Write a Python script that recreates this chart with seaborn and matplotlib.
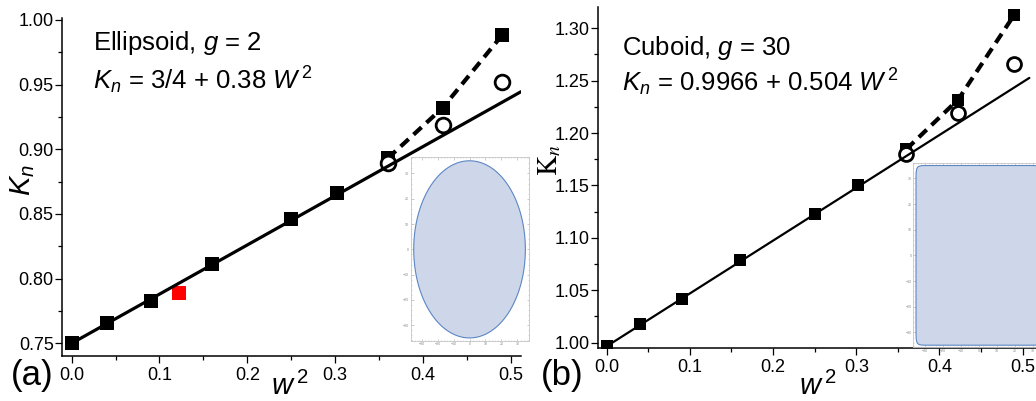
import numpy as np
import pandas as pd
import matplotlib
matplotlib.use("Agg")
import matplotlib.pyplot as plt
from matplotlib.ticker import MultipleLocator, FormatStrFormatter
import seaborn as sns

# ---------------- data ----------------
w2 = [0.0, 0.04, 0.09, 0.16, 0.25, 0.3025, 0.36, 0.4225, 0.49]
w2_open = [0.36, 0.4225, 0.49]

kn_ellipsoid = [0.750, 0.766, 0.783, 0.811, 0.846, 0.866, 0.893, 0.932, 0.988]
kn_ellipsoid_open = [0.889, 0.919, 0.952]
w2_red = [0.1225]
kn_red = [0.789]

kn_cuboid = [0.997, 1.018, 1.042, 1.079, 1.123, 1.150, 1.1845, 1.232, 1.313]
kn_cuboid_open = [1.180, 1.219, 1.266]

fit_ellipsoid = (0.75, 0.38)     # K_n = 3/4 + 0.38 W^2
fit_cuboid = (0.9966, 0.504)     # K_n = 0.9966 + 0.504 W^2
g_ellipsoid = 2
g_cuboid = 30
shape_radius = 35

x_ticks = [0.0, 0.1, 0.2, 0.3, 0.4, 0.5]
y_ticks_a = [0.75, 0.80, 0.85, 0.90, 0.95, 1.00]
y_ticks_b = [1.00, 1.05, 1.10, 1.15, 1.20, 1.25, 1.30]
inset_ticks = [-30, -20, -10, 0, 10, 20, 30]

# ---------------- style ----------------
sns.set_theme(style="ticks")
plt.rcParams["font.family"] = ["Liberation Sans", "DejaVu Sans"]
plt.rcParams["mathtext.fontset"] = "custom"
plt.rcParams["mathtext.rm"] = "Liberation Sans"
plt.rcParams["mathtext.it"] = "Liberation Sans:italic"
plt.rcParams["mathtext.bf"] = "Liberation Sans:bold"
plt.rcParams["text.color"] = "black"
plt.rcParams["axes.labelcolor"] = "black"

W, H = 1036, 401
fig = plt.figure(figsize=(W / 100, H / 100), dpi=100)


def box(left, top, right, bottom):
    return [left / W, 1 - bottom / H, (right - left) / W, (bottom - top) / H]


def fx(px):
    return px / W


def fy(py):
    return 1 - py / H


def style_main(ax, xlim, ylim, yticks):
    ax.set_xlim(*xlim)
    ax.set_ylim(*ylim)
    ax.set_xticks(x_ticks)
    ax.set_yticks(yticks)
    ax.xaxis.set_minor_locator(MultipleLocator(0.05))
    ax.yaxis.set_minor_locator(MultipleLocator(0.025))
    ax.xaxis.set_major_formatter(FormatStrFormatter("%.1f"))
    ax.yaxis.set_major_formatter(FormatStrFormatter("%.2f"))
    for s in ("top", "right"):
        ax.spines[s].set_visible(False)
    for s in ("left", "bottom"):
        ax.spines[s].set_linewidth(1.1)
        ax.spines[s].set_color("black")
    ax.tick_params(which="major", direction="out", length=5, width=0.9,
                   labelsize=13, colors="black")
    ax.tick_params(axis="y", which="major", pad=1)
    ax.tick_params(axis="x", which="major", pad=3)
    ax.tick_params(which="minor", direction="out", length=2.6, width=0.9,
                   colors="black")
    ax.set_xlabel("")
    ax.set_ylabel("")
    ax.set_facecolor("none")


def draw_panel(ax, kn, kn_open, fit, xmax, lw_fit, sq_size, circ_size):
    c0, c1 = fit
    xs = np.array([0.0, xmax])
    sns.lineplot(x=xs, y=c0 + c1 * xs, ax=ax, color="black", lw=lw_fit,
                 zorder=6)
    sns.lineplot(x=w2[-3:], y=kn[-3:], ax=ax, color="black", lw=3.0,
                 linestyle=(0, (2.6, 1.6)), zorder=3)
    sns.scatterplot(x=w2, y=kn, ax=ax, marker="s", s=sq_size, color="black",
                    linewidth=0, zorder=4)
    sns.scatterplot(x=w2_open, y=kn_open, ax=ax, marker="o", s=circ_size,
                    facecolor="white", edgecolor="black", linewidth=2.0,
                    zorder=5)


def superellipse(g, r):
    t = np.linspace(0, 2 * np.pi, 2000)
    c, s = np.cos(t), np.sin(t)
    x = r * np.sign(c) * np.abs(c) ** (2.0 / g)
    y = r * np.sign(s) * np.abs(s) ** (2.0 / g)
    return x, y


def draw_inset(rect, xlim, ylim, g):
    ax = fig.add_axes(rect)
    x, y = superellipse(g, shape_radius)
    ax.fill(x, y, facecolor="#cdd7e9", edgecolor="#5d86c4", lw=0.8)
    ax.set_xlim(*xlim)
    ax.set_ylim(*ylim)
    ax.set_xticks(inset_ticks)
    ax.set_yticks(inset_ticks)
    ax.xaxis.set_minor_locator(MultipleLocator(2))
    ax.yaxis.set_minor_locator(MultipleLocator(2))
    for s in ax.spines.values():
        s.set_color("#c4c4c4")
        s.set_linewidth(0.6)
    ax.tick_params(which="both", direction="in", top=True, right=True,
                   colors="#b5b5b5", labelsize=2.6, labelcolor="#8a8a8a",
                   pad=1.2)
    ax.tick_params(which="major", length=1.8, width=0.5)
    ax.tick_params(which="minor", length=1.0, width=0.4)
    ax.set_facecolor("white")
    return ax


# ---------------- panel (a): ellipsoid ----------------
ax_a = fig.add_axes(box(62, 18, 521, 356))
draw_panel(ax_a, kn_ellipsoid, kn_ellipsoid_open, fit_ellipsoid, 0.5117,
           lw_fit=2.3, sq_size=92, circ_size=112)
sns.scatterplot(x=w2_red, y=kn_red, ax=ax_a, marker="s", s=108,
                color="#ff0000", linewidth=0, zorder=4)
style_main(ax_a, (-0.0110, 0.5117), (0.7402, 1.0014), y_ticks_a)

fig.text(fx(93), fy(50), "Ellipsoid, $g$ = 2", fontsize=18.5,
         va="baseline", ha="left")
fig.text(fx(93), fy(89), "$K_n$ = 3/4 + 0.38 $W^{\\,2}$", fontsize=18.5,
         va="baseline", ha="left")
fig.text(fx(23), fy(180), "$K_n$", fontsize=21, rotation=90,
         ha="center", va="center")
fig.text(fx(271), fy(395), "$w^{\\,2}$", fontsize=21, ha="left", va="baseline")
fig.text(fx(11), fy(385), "(a)", fontsize=25, ha="left", va="baseline")

draw_inset(box(410.7, 157, 528.7, 340.7), (-36.9, 37.1), (-36.1, 36.5),
           g_ellipsoid)

# ---------------- panel (b): cuboid ----------------
ax_b = fig.add_axes(box(597.7, 7.3, 1036, 348.3))
draw_panel(ax_b, kn_cuboid, kn_cuboid_open, fit_cuboid, 0.508,
           lw_fit=1.6, sq_size=85, circ_size=100)
style_main(ax_b, (-0.0108, 0.516), (0.99466, 1.320), y_ticks_b)

fig.text(fx(622), fy(55), "Cuboid, $g$ = 30", fontsize=18.5,
         va="baseline", ha="left")
fig.text(fx(622), fy(91), "$K_n$ = 0.9966 + 0.504 $W^{\\,2}$", fontsize=18.5,
         va="baseline", ha="left")
fig.text(fx(550), fy(160), r"$\mathrm{K}_n$", fontsize=20, rotation=90,
         ha="center", va="center", math_fontfamily="stix")
fig.text(fx(799), fy(395), "$w^{\\,2}$", fontsize=21, ha="left", va="baseline")
fig.text(fx(540.7), fy(385), "(b)", fontsize=25, ha="left", va="baseline")

draw_inset(box(913.3, 162.7, 1044.7, 347), (-36.5, 36.5), (-35.7, 36.1),
           g_cuboid)

fig.savefig("out.png", dpi=100, facecolor="white")
